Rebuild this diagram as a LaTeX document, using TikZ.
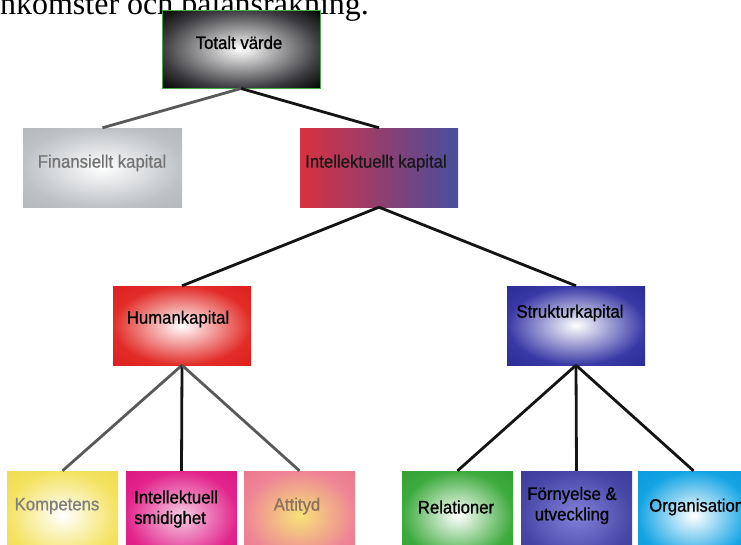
\documentclass[tikz,border=0pt]{standalone}
\usepackage{fontspec}
\setmainfont{Liberation Sans}
\newfontfamily\serifpage{Liberation Serif}
\newfontfamily\lblfont[FakeStretch=0.93,FakeBold=0.9]{Liberation Sans}
\definecolor{tvmid}{RGB}{60,60,64}
\definecolor{finmid}{RGB}{190,194,198}
\definecolor{finout}{RGB}{180,184,188}
\definecolor{ikleft}{RGB}{218,48,64}
\definecolor{ikright}{RGB}{72,78,158}
\definecolor{hkmid}{RGB}{226,44,40}
\definecolor{hkout}{RGB}{220,30,30}
\definecolor{skmid}{RGB}{56,56,166}
\definecolor{skout}{RGB}{44,44,150}
\definecolor{kompmid}{RGB}{244,226,96}
\definecolor{kompout}{RGB}{240,220,80}
\definecolor{ismin}{RGB}{246,205,228}
\definecolor{ismmid}{RGB}{226,36,140}
\definecolor{ismout}{RGB}{220,24,130}
\definecolor{attin}{RGB}{246,226,120}
\definecolor{attmid}{RGB}{238,132,150}
\definecolor{attout}{RGB}{236,120,142}
\definecolor{relmid}{RGB}{60,170,60}
\definecolor{relout}{RGB}{50,160,50}
\definecolor{fornin}{RGB}{130,130,220}
\definecolor{fornmid}{RGB}{70,70,166}
\definecolor{fornout}{RGB}{60,60,156}
\definecolor{orgmid}{RGB}{20,164,228}
\definecolor{orgout}{RGB}{10,155,220}
\definecolor{tvborder}{RGB}{70,170,70}
\definecolor{attext}{RGB}{140,112,96}
\colorlet{rin}{white}\colorlet{rmid}{gray}\colorlet{rout}{black}
\pgfdeclareradialshading[rin,rmid,rout]{boxrad}{\pgfpoint{0bp}{0bp}}{color(0bp)=(rin); color(25bp)=(rmid); color(36bp)=(rout); color(50bp)=(rout)}
\begin{document}
\begin{tikzpicture}[x=1pt,y=-1pt,
  box/.style={rectangle, inner sep=0pt, draw=none},
  rgrad/.style n args={3}{/utils/exec={\colorlet{rin}{#1}\colorlet{rmid}{#2}\colorlet{rout}{#3}}, shading=boxrad},
  lbl/.style={inner sep=0pt, font=\lblfont\fontsize{18}{20.5}\selectfont, text=black},
  conblack/.style={draw=black!92, line width=2.8pt},
  congray/.style={draw=black!65, line width=2.8pt}]
\useasboundingbox (0,0) rectangle (741,544);
\clip (0,0) rectangle (741,544);
\fill[white] (0,0) rectangle (741,544);

% page text, cut at the top
\node[anchor=base west, inner sep=0pt, font=\serifpage\fontsize{32}{32}\selectfont] (pagetext) at (-9,14) {inkomster och balansräkning.};

% boxes
\node[box, minimum width=158pt, minimum height=78pt, rgrad={white}{tvmid}{black}, draw=tvborder, line width=1pt] (tv) at (241,49) {};
\node[box, minimum width=159pt, minimum height=79pt, rgrad={white}{finmid}{finout}] (fin) at (102.5,167.5) {};
\node[box, minimum width=158pt, minimum height=79pt, left color=ikleft, right color=ikright] (ik) at (379,167.5) {};
\node[box, minimum width=138pt, minimum height=79pt, rgrad={white}{hkmid}{hkout}] (hk) at (182,325.5) {};
\node[box, minimum width=138pt, minimum height=79pt, rgrad={white}{skmid}{skout}] (sk) at (576,325.5) {};

\node[box, minimum width=111pt, minimum height=89pt, rgrad={white}{kompmid}{kompout}] (komp) at (62.5,515.5) {};
\node[box, minimum width=111pt, minimum height=89pt, rgrad={ismin}{ismmid}{ismout}] (ism) at (181.5,515.5) {};
\node[box, minimum width=111pt, minimum height=89pt, rgrad={attin}{attmid}{attout}] (att) at (299.5,515.5) {};
\node[box, minimum width=111pt, minimum height=89pt, rgrad={white}{relmid}{relout}] (rel) at (457.5,515.5) {};
\node[box, minimum width=111pt, minimum height=89pt, rgrad={fornin}{fornmid}{fornout}] (forn) at (576.5,515.5) {};
\node[box, minimum width=111pt, minimum height=89pt, rgrad={white}{orgmid}{orgout}] (org) at (693.5,515.5) {};

% connectors
\draw[congray] (tv.south) -- (fin.north);
\draw[conblack] (tv.south) -- (ik.north);
\draw[conblack] (ik.south) -- (hk.north);
\draw[conblack] (ik.south) -- (sk.north);
\draw[congray] (hk.south) -- (komp.north);
\draw[conblack] (hk.south) -- (ism.north);
\draw[congray] (hk.south) -- (att.north);
\draw[conblack] (sk.south) -- (rel.north);
\draw[conblack] (sk.south) -- (forn.north);
\draw[conblack] (sk.south) -- (org.north);

% labels
\node[lbl] (tvl) at (239,42.5) {Totalt värde};
\node[lbl, text=black!55] (finl) at (102,163) {Finansiellt kapital};
\node[lbl, text=black!90] (ikl) at (376,163) {Intellektuellt kapital};
\node[lbl] (hkl) at (178,319) {Humankapital};
\node[lbl] (skl) at (570,313) {Strukturkapital};
\node[lbl, text=black!50] (kompl) at (57,506) {Kompetens};
\node[lbl, anchor=west, align=left] (isml) at (134,509) {Intellektuell\\smidighet};
\node[lbl, text=attext] (attl) at (297,506) {Attityd};
\node[lbl] (rell) at (456,507) {Relationer};
\node[lbl, align=center] (fornl) at (572,505.5) {Förnyelse \&\\utveckling};
\node[lbl, anchor=west] (orgl) at (649,507) {Organisation};
\end{tikzpicture}
\end{document}
